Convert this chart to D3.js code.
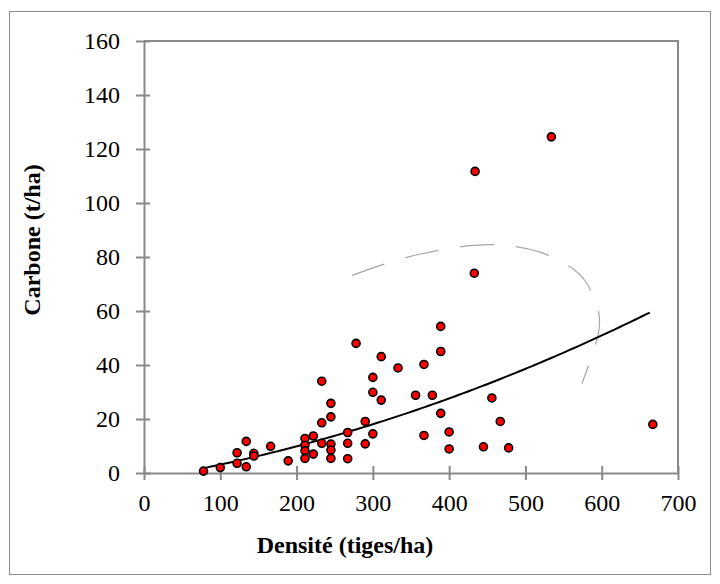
<!DOCTYPE html>
<html lang="fr">
<head>
    <meta charset="UTF-8">
    <title>Carbone vs Densité</title>
    <script src="https://d3js.org/d3.v7.min.js"></script>
    <style>
        body { margin: 0; background: #fff; }
        svg text { font-family: "Liberation Serif", "Times New Roman", serif; fill: #000; }
    </style>
</head>
<body>
    <div id="chart"></div>

    <script>
        // données
        const densite = [78, 100, 122, 134, 122, 134, 144, 144, 166, 189,
            211, 211, 211, 211, 222, 222, 233, 233, 233,
            245, 245, 245, 245, 245, 267, 267, 267, 278, 290, 290,
            300, 300, 300, 311, 311, 333, 356, 367, 367, 378,
            389, 389, 389, 400, 400, 433, 434, 445, 456, 467, 478, 534, 667];
        const carbone = [0.7, 2.0, 3.6, 2.3, 7.5, 11.7, 7.3, 6.3, 9.9, 4.5,
            12.8, 10.3, 8.2, 5.4, 13.7, 7.0, 34.0, 18.6, 11.0,
            25.8, 20.8, 10.7, 8.5, 5.4, 15.0, 11.0, 5.3, 48.0, 19.1, 10.8,
            35.4, 29.9, 14.5, 43.1, 27.0, 38.9, 28.8, 40.2, 13.9, 28.8,
            54.3, 45.0, 22.1, 15.2, 8.9, 74.0, 111.7, 9.7, 27.8, 19.1, 9.3, 124.5, 18.0];

        // courbe de tendance polynomiale (ordre 2) : a + b x + c x²
        const trendCoef = [-2.28, 0.04687, 6.97e-5];
        const trendRange = [78, 667];

        // ellipse pointillée (annotation) en unités du graphique
        const arcX = [273, 313, 364, 432, 475, 519, 558, 578, 596, 596, 574];
        const arcY = [73.2, 77.2, 81.2, 84.3, 84.3, 81.8, 76.5, 71.3, 59.6, 52.2, 33.1];

        const xTicks = [0, 100, 200, 300, 400, 500, 600, 700];
        const yTicks = [0, 20, 40, 60, 80, 100, 120, 140, 160];

        const width = 720, height = 584;
        const margin = { top: 41, right: 42, bottom: 111, left: 144 };

        const svg = d3.select("#chart").append("svg")
            .attr("width", width)
            .attr("height", height);

        // cadre extérieur
        svg.append("rect")
            .attr("x", 9.5).attr("y", 11.5)
            .attr("width", 701).attr("height", 563)
            .attr("fill", "none")
            .attr("stroke", "#8c8c8c")
            .attr("stroke-width", 1);

        const x = d3.scaleLinear().domain([0, 700]).range([margin.left, width - margin.right]);
        const y = d3.scaleLinear().domain([0, 160]).range([height - margin.bottom, margin.top]);

        // bord haut et droit
        svg.append("path")
            .attr("d", `M${x(0)},${y(160)}H${x(700)}V${y(0)}`)
            .attr("fill", "none")
            .attr("stroke", "#898989")
            .attr("stroke-width", 2);

        // axe X
        const gx = svg.append("g")
            .attr("transform", `translate(0,${y(0)})`)
            .call(d3.axisBottom(x).tickValues(xTicks).tickSize(7).tickPadding(14).tickSizeOuter(0));
        gx.selectAll(".tick line").attr("y1", -7);

        // axe Y
        const gy = svg.append("g")
            .attr("transform", `translate(${x(0)},0)`)
            .call(d3.axisLeft(y).tickValues(yTicks).tickSize(8).tickPadding(16).tickSizeOuter(0));
        gy.selectAll(".tick line").attr("x1", 6);

        svg.selectAll(".domain, .tick line")
            .attr("stroke", "#898989")
            .attr("stroke-width", 2);
        svg.selectAll(".tick text")
            .attr("font-size", 24);

        // ellipse en tirets
        const arcPts = arcX.map((v, i) => [v, arcY[i]]);
        svg.append("path")
            .datum(arcPts)
            .attr("d", d3.line().x(d => x(d[0])).y(d => y(d[1])).curve(d3.curveCatmullRom))
            .attr("fill", "none")
            .attr("stroke", "#a6a6a6")
            .attr("stroke-width", 1.2)
            .attr("stroke-dasharray", "34,22");

        // courbe de tendance
        const trendPts = d3.range(trendRange[0], trendRange[1] + 1, 5)
            .map(v => [v, trendCoef[0] + trendCoef[1] * v + trendCoef[2] * v * v]);
        svg.append("path")
            .datum(trendPts)
            .attr("d", d3.line().x(d => x(d[0])).y(d => y(d[1])))
            .attr("fill", "none")
            .attr("stroke", "#000")
            .attr("stroke-width", 2);

        // points
        svg.selectAll("circle.pt")
            .data(densite.map((d, i) => [d, carbone[i]]))
            .join("circle")
            .attr("class", "pt")
            .attr("cx", d => x(d[0]))
            .attr("cy", d => y(d[1]))
            .attr("r", 4)
            .attr("fill", "#ff0000")
            .attr("stroke", "#000")
            .attr("stroke-width", 1.6);

        // titres des axes
        svg.append("text")
            .attr("x", 345)
            .attr("y", 553)
            .attr("text-anchor", "middle")
            .attr("font-size", 24)
            .attr("font-weight", "bold")
            .text("Densité (tiges/ha)");

        svg.append("text")
            .attr("transform", "translate(40,240) rotate(-90)")
            .attr("text-anchor", "middle")
            .attr("font-size", 24)
            .attr("font-weight", "bold")
            .text("Carbone (t/ha)");
    </script>
</body>
</html>
